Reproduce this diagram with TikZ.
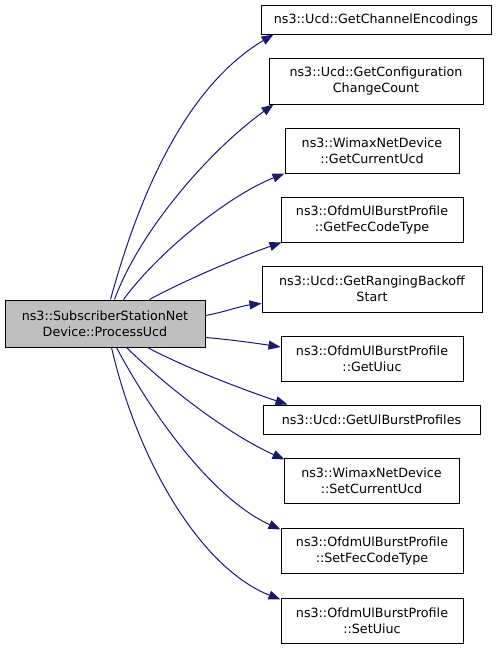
\documentclass[tikz,border=0pt]{standalone}
\usepackage{fontspec}
\setmainfont{DejaVu Sans}
\usetikzlibrary{arrows.meta}
\definecolor{edgeblue}{HTML}{191970}
\definecolor{mainfill}{HTML}{BFBFBF}
\tikzset{
  fn/.style={draw=black, line width=1pt, fill=white, inner sep=0pt, align=center,
    font=\fontsize{12.7}{16}\selectfont},
  mainfn/.style={fn, fill=mainfill},
  call/.style={draw=edgeblue, line width=1pt, -{Triangle[length=12pt,width=9pt]}, fill=none}
}
\begin{document}
\begin{tikzpicture}[x=1pt,y=-1pt]
\useasboundingbox (0,0) rectangle (496,648);
\node[mainfn, minimum width=200pt, minimum height=47pt] (main) at (105,323.5) {ns3::SubscriberStationNet\\Device::ProcessUcd};
\node[fn, minimum width=230pt, minimum height=29pt] (b1) at (376,19.5) {ns3::Ucd::GetChannelEncodings};
\node[fn, minimum width=214pt, minimum height=46pt] (b2) at (376,81) {ns3::Ucd::GetConfiguration\\ChangeCount};
\node[fn, minimum width=174pt, minimum height=45pt] (b3) at (372,150.5) {ns3::WimaxNetDevice\\::GetCurrentUcd};
\node[fn, minimum width=182pt, minimum height=45pt] (b4) at (372,219.5) {ns3::OfdmUlBurstProfile\\::GetFecCodeType};
\node[fn, minimum width=220pt, minimum height=46pt] (b5) at (372,289) {ns3::Ucd::GetRangingBackoff\\Start};
\node[fn, minimum width=182pt, minimum height=45pt] (b6) at (372,358.5) {ns3::OfdmUlBurstProfile\\::GetUiuc};
\node[fn, minimum width=217pt, minimum height=29pt] (b7) at (371.5,419.5) {ns3::Ucd::GetUlBurstProfiles};
\node[fn, minimum width=175pt, minimum height=45pt] (b8) at (371.5,480.5) {ns3::WimaxNetDevice\\::SetCurrentUcd};
\node[fn, minimum width=182pt, minimum height=45pt] (b9) at (372,550.5) {ns3::OfdmUlBurstProfile\\::SetFecCodeType};
\node[fn, minimum width=182pt, minimum height=45pt] (b10) at (372,620.5) {ns3::OfdmUlBurstProfile\\::SetUiuc};

\draw[call] ([xshift=106pt]main.north west) .. controls (135,210) and (180,90) .. ([xshift=13pt]b1.south west);
\draw[call] ([xshift=110pt]main.north west) .. controls (140,230) and (210,150) .. ([xshift=5pt]b2.south west);
\draw[call] ([xshift=119pt]main.north west) .. controls (160,250) and (230,195) .. (b3.south west);
\draw[call] ([xshift=145pt]main.north west) .. controls (185,280) and (245,255) .. ([xshift=1pt]b4.south west);
\draw[call] ([yshift=-16pt]main.north east) .. controls (225,312) and (240,306) .. ([yshift=9pt]b5.south west);
\draw[call] ([yshift=10pt]main.south east) .. controls (225,339) and (255,343) .. ([yshift=11.5pt]b6.west);
\draw[call] ([xshift=143pt]main.south west) .. controls (190,370) and (250,392) .. ([xshift=25pt]b7.north west);
\draw[call] ([xshift=122pt]main.south west) .. controls (170,390) and (230,435) .. ([xshift=1pt,yshift=-2pt]b8.north west);
\draw[call] ([xshift=112pt]main.south west) .. controls (155,420) and (215,500) .. ([yshift=-2pt]b9.north west);
\draw[call] ([xshift=107pt]main.south west) .. controls (140,470) and (205,570) .. ([yshift=-2pt]b10.north west);
\end{tikzpicture}
\end{document}
